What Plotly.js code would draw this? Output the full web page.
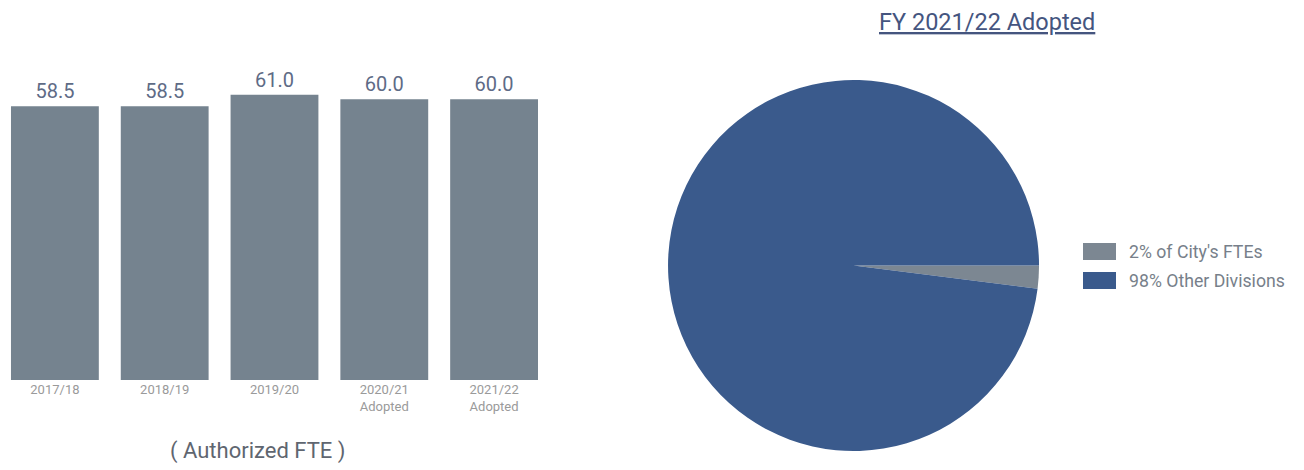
<!DOCTYPE html>
<html>
<head>
<meta charset="utf-8">
<script src="https://cdn.plot.ly/plotly-3.0.1.min.js"></script>
<style>html,body{margin:0;padding:0;background:#fff;}#chart{width:1304px;height:470px;}</style>
</head>
<body>
<div id="chart"></div>
<script>
// Bar chart data
const years = ["2017/18", "2018/19", "2019/20", "2020/21<br>Adopted", "2021/22<br>Adopted"];
const fte = [58.5, 58.5, 61.0, 60.0, 60.0];
const fteLabels = ["58.5", "58.5", "61.0", "60.0", "60.0"];
// Pie chart data
const pieLabels = ["2% of City's FTEs", "98% Other Divisions"];
const pieValues = [2, 98];
const pieColors = ["#7c8792", "#3a5a8c"];

const FONT = "Roboto, 'Liberation Sans', sans-serif";

const barTrace = {
  type: "bar",
  x: years,
  y: fte,
  text: fteLabels,
  textposition: "outside",
  textfont: {family: FONT, size: 20, color: "#5e6b86"},
  cliponaxis: false,
  marker: {color: "#75838f"},
  hoverinfo: "x+y",
  showlegend: false,
  xaxis: "x", yaxis: "y"
};

const pieTrace = {
  type: "pie",
  labels: pieLabels,
  values: pieValues,
  sort: false,
  direction: "clockwise",
  rotation: 90,
  textinfo: "none",
  marker: {colors: pieColors, line: {width: 0}},
  domain: {x: [0.5123, 0.7968], y: [0.0404, 0.8298]},
  showlegend: false
};

// Legend drawn as swatches + labels (built from pieLabels / pieColors)
const legendX0 = 1083, legendSw = 33, legendSh = 17, legendTop = [243, 272], legendTextX = 1127;
const legendShapes = pieLabels.map((lab, i) => ({
  type: "rect", xref: "paper", yref: "paper",
  x0: legendX0/1304, x1: (legendX0+legendSw)/1304,
  y0: (470 - legendTop[i] - legendSh)/470, y1: (470 - legendTop[i])/470,
  fillcolor: pieColors[i], line: {width: 0}
}));
const legendAnnots = pieLabels.map((lab, i) => ({
  text: lab, xref: "paper", yref: "paper",
  x: legendTextX/1304, y: (470 - legendTop[i] - legendSh/2)/470,
  xanchor: "left", yanchor: "middle", showarrow: false,
  font: {family: FONT, size: 17.7, color: "#777f8a"}
}));

const layout = {
  width: 1304, height: 470,
  margin: {l: 0, r: 0, t: 0, b: 0},
  paper_bgcolor: "#ffffff",
  plot_bgcolor: "#ffffff",
  font: {family: FONT, color: "#6d7580"},
  bargap: 0.2,
  xaxis: {
    domain: [0, 0.421],
    range: [-0.5, 4.5],
    showgrid: false, zeroline: false, showline: false,
    ticks: "", tickfont: {family: FONT, size: 13, color: "#9a9a9a"},
    fixedrange: true
  },
  yaxis: {
    domain: [0.1915, 0.8723],
    range: [0, 68.4],
    visible: false,
    fixedrange: true
  },
  showlegend: false,
  shapes: legendShapes,
  annotations: [
    {
      text: "( Authorized FTE )",
      xref: "paper", yref: "paper",
      x: 257/1304, y: (470-451)/470,
      xanchor: "center", yanchor: "middle",
      showarrow: false,
      font: {family: FONT, size: 22, color: "#5f6670"}
    },
    {
      text: "<u>FY 2021/22 Adopted</u>",
      xref: "paper", yref: "paper",
      x: 987/1304, y: (470-22)/470,
      xanchor: "center", yanchor: "middle",
      showarrow: false,
      font: {family: FONT, size: 23.5, color: "#45557f"}
    }
  ].concat(legendAnnots)
};

Plotly.newPlot("chart", [barTrace, pieTrace], layout, {displayModeBar: false, staticPlot: true});
</script>
</body>
</html>
